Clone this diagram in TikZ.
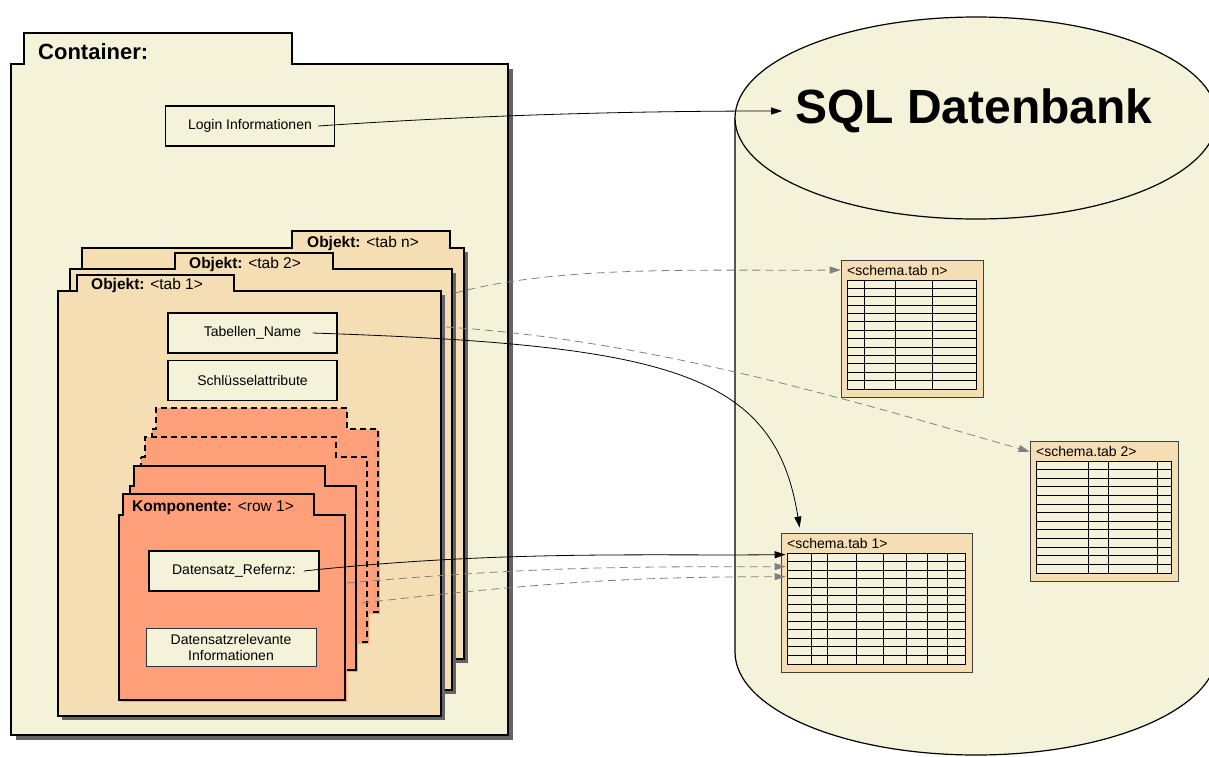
\documentclass[tikz,border=0pt]{standalone}
\usepackage{fontspec}
\setmainfont{Liberation Sans}
\usetikzlibrary{arrows.meta, positioning, calc, fit}

\definecolor{cream}{RGB}{244,243,218}
\definecolor{wheat}{RGB}{245,222,179}
\definecolor{salmon}{RGB}{255,160,122}
\definecolor{shade}{RGB}{100,100,100}
\definecolor{refgray}{RGB}{128,128,128}

\newcommand{\fsz}[1]{\fontsize{#1}{#1}\selectfont}

% frame with tab: style, shadow, x1, tab x1, tab x2, tab top, body top, x2, y2
\newcommand{\pkgframe}[9]{%
	\fill[#2] (#3,#7) rectangle (#8,#9);
	\draw[#1] (#3,#7) -- (#4,#7) -- (#4,#6) -- (#5,#6) -- (#5,#7) -- (#8,#7) -- (#8,#9) -- (#3,#9) -- cycle;
}

% table in the db: name, x1, y1, x2, y2, title, column positions
\newcommand{\schematab}[7]{%
	\node[tabouter, fit={(#2,#3) (#4,#5)}] (#1) {};
	\node[tabtitle] (#1t) at ({#2+6},{#3+15}) {#6};
	\filldraw[tabgrid, fill=cream] ({#2+6},{#3+20}) rectangle ({#4-7},{#5-8});
	\foreach \r in {1,...,12}
		\draw[tabgrid] ({#2+6},{#3+20+\r*(#5-#3-28)/13}) -- ({#4-7},{#3+20+\r*(#5-#3-28)/13});
	\foreach \c in {#7}
		\draw[tabgrid] (\c,{#3+20}) -- (\c,{#5-8});
}

\tikzset{%
	contframe/.style={draw, line width=1.5pt, fill=cream},
	objframe/.style={draw, line width=1.5pt, fill=wheat},
	kompframe/.style={draw, line width=1.5pt, fill=salmon},
	kompghost/.style={kompframe, dash pattern=on 6pt off 4pt},
	contshadow/.style={fill=shade, xshift=5pt, yshift=-5pt},
	objshadow/.style={fill=shade, xshift=4pt, yshift=-4pt},
	kompshadow/.style={fill=salmon, xshift=2pt, yshift=-2pt},
	contlabel/.style={anchor=base west, inner sep=0pt, font=\fsz{22}\bfseries},
	pkglabel/.style={anchor=base west, inner sep=0pt, font=\fsz{15.5}},
	infobox/.style={draw, line width=1.5pt, fill=cream, minimum width=169pt,
		minimum height=40pt, inner sep=0pt, font=\fsz{14}},
	notebox/.style={infobox, line width=0.8pt, draw=black!80, minimum height=38pt,
		align=center, font=\fontsize{14}{16}\selectfont},
	dbshape/.style={draw, line width=1.2pt, fill=cream},
	tabouter/.style={draw=black!75, line width=0.8pt, fill=wheat, inner sep=0pt},
	tabtitle/.style={anchor=base west, inner sep=0pt, font=\fsz{14}},
	tabgrid/.style={line width=1pt},
	flow/.style={-{Triangle[length=11pt, width=7pt]}, line width=0.8pt},
	ref/.style={flow, draw=refgray, dash pattern=on 8pt off 5pt}
}

\begin{document}
\begin{tikzpicture}[x=1pt, y=-1pt]
	\useasboundingbox (0,0) rectangle (1209,756);
	\clip (0,0) rectangle (1209,756);

	% container
	\pkgframe{contframe}{contshadow}{11}{24}{292}{33}{64}{508}{735}
	\node[contlabel] (cont) at (38,59) {Container:};
	\node[infobox] (login) at (250,126) {Login Informationen};

	% objekte, back to front
	\pkgframe{objframe}{objshadow}{82}{292}{450}{231}{248}{464}{659}
	\node[pkglabel] (objn) at (307,247) {\textbf{Objekt:} <tab n>};
	\pkgframe{objframe}{objshadow}{70}{175}{333}{253}{269}{452}{690}
	\node[pkglabel] (obj2) at (189,268) {\textbf{Objekt:} <tab 2>};
	\pkgframe{objframe}{objshadow}{58}{77}{234}{275}{291}{441}{716}
	\node[pkglabel] (obj1) at (91,289) {\textbf{Objekt:} <tab 1>};

	\node[infobox] (tabname) at (252.5,333) {Tabellen\_Name};
	\node[infobox] (keyattr) at (252.5,380.5) {Schlüsselattribute};

	% komponenten
	\pkgframe{kompghost}{kompshadow}{152}{156}{347}{408}{429}{378}{612}
	\pkgframe{kompghost}{kompshadow}{141}{145}{336}{437}{457}{367}{642}
	\pkgframe{kompframe}{kompshadow}{130}{134}{325}{466}{486}{356}{670}
	\pkgframe{kompframe}{kompshadow}{119}{123}{314}{494}{515}{345}{700}
	\node[pkglabel] (komp1) at (132,511) {\textbf{Komponente:} <row 1>};

	\node[infobox, minimum width=170pt] (dsref) at (234,571) {Datensatz\_Refernz:};
	\node[notebox, minimum width=170pt] (dsinfo) at (231,647) {Datensatzrelevante\\Informationen};

	% datenbank
	\path[dbshape, draw=none] (735,118) -- (735,652)
		arc[start angle=180, end angle=360, x radius=241pt, y radius=103pt] -- (1217,118) -- cycle;
	\draw[line width=1.2pt] (735,118) -- (735,652)
		arc[start angle=180, end angle=360, x radius=241pt, y radius=103pt] -- (1217,118);
	\draw[dbshape] (976,118) ellipse[x radius=241pt, y radius=101pt];
	\node[font=\fsz{48}\bfseries, inner sep=13pt] (sqldb) at (974,111) {SQL Datenbank};

	\schematab{stabn}{841}{260}{983}{397}{<schema.tab n>}{864,895,932}
	\schematab{stabtwo}{1030}{441}{1178}{581}{<schema.tab 2>}{1088,1108,1157}
	\schematab{stabone}{781}{533}{972}{672}{<schema.tab 1>}{811,827,856,883,906,927,947}

	% connectors
	\coordinate (objnout) at (455,293);
	\coordinate (objtwoout) at (446,327);
	\coordinate (komptwoout) at (347,583);
	\coordinate (kompthreeout) at (362,603);

	\draw[flow] ([xshift=-17pt]login.east) .. controls (450,117) and (600,111) .. (sqldb.west);
	\draw[flow] ([xshift=-25pt]tabname.east) .. controls (670,345) and (775,372) .. ([xshift=19pt, yshift=5pt]stabone.north west);
	\draw[flow] ([xshift=-16pt]dsref.east) .. controls (500,550) and (650,556) .. ([xshift=5pt, yshift=-22pt]stabone.north west);
	\draw[ref] (objnout) .. controls (560,265) and (700,271) .. (stabn.west |- stabnt.west);
	\draw[ref] (objtwoout) .. controls (650,340) and (850,400) .. ([yshift=-11pt]stabtwo.north west);
	\draw[ref] (komptwoout) .. controls (550,565) and (650,567) .. ([xshift=5pt, yshift=-34pt]stabone.north west);
	\draw[ref] (kompthreeout) .. controls (560,580) and (650,577) .. ([xshift=5pt, yshift=-44pt]stabone.north west);
\end{tikzpicture}
\end{document}
